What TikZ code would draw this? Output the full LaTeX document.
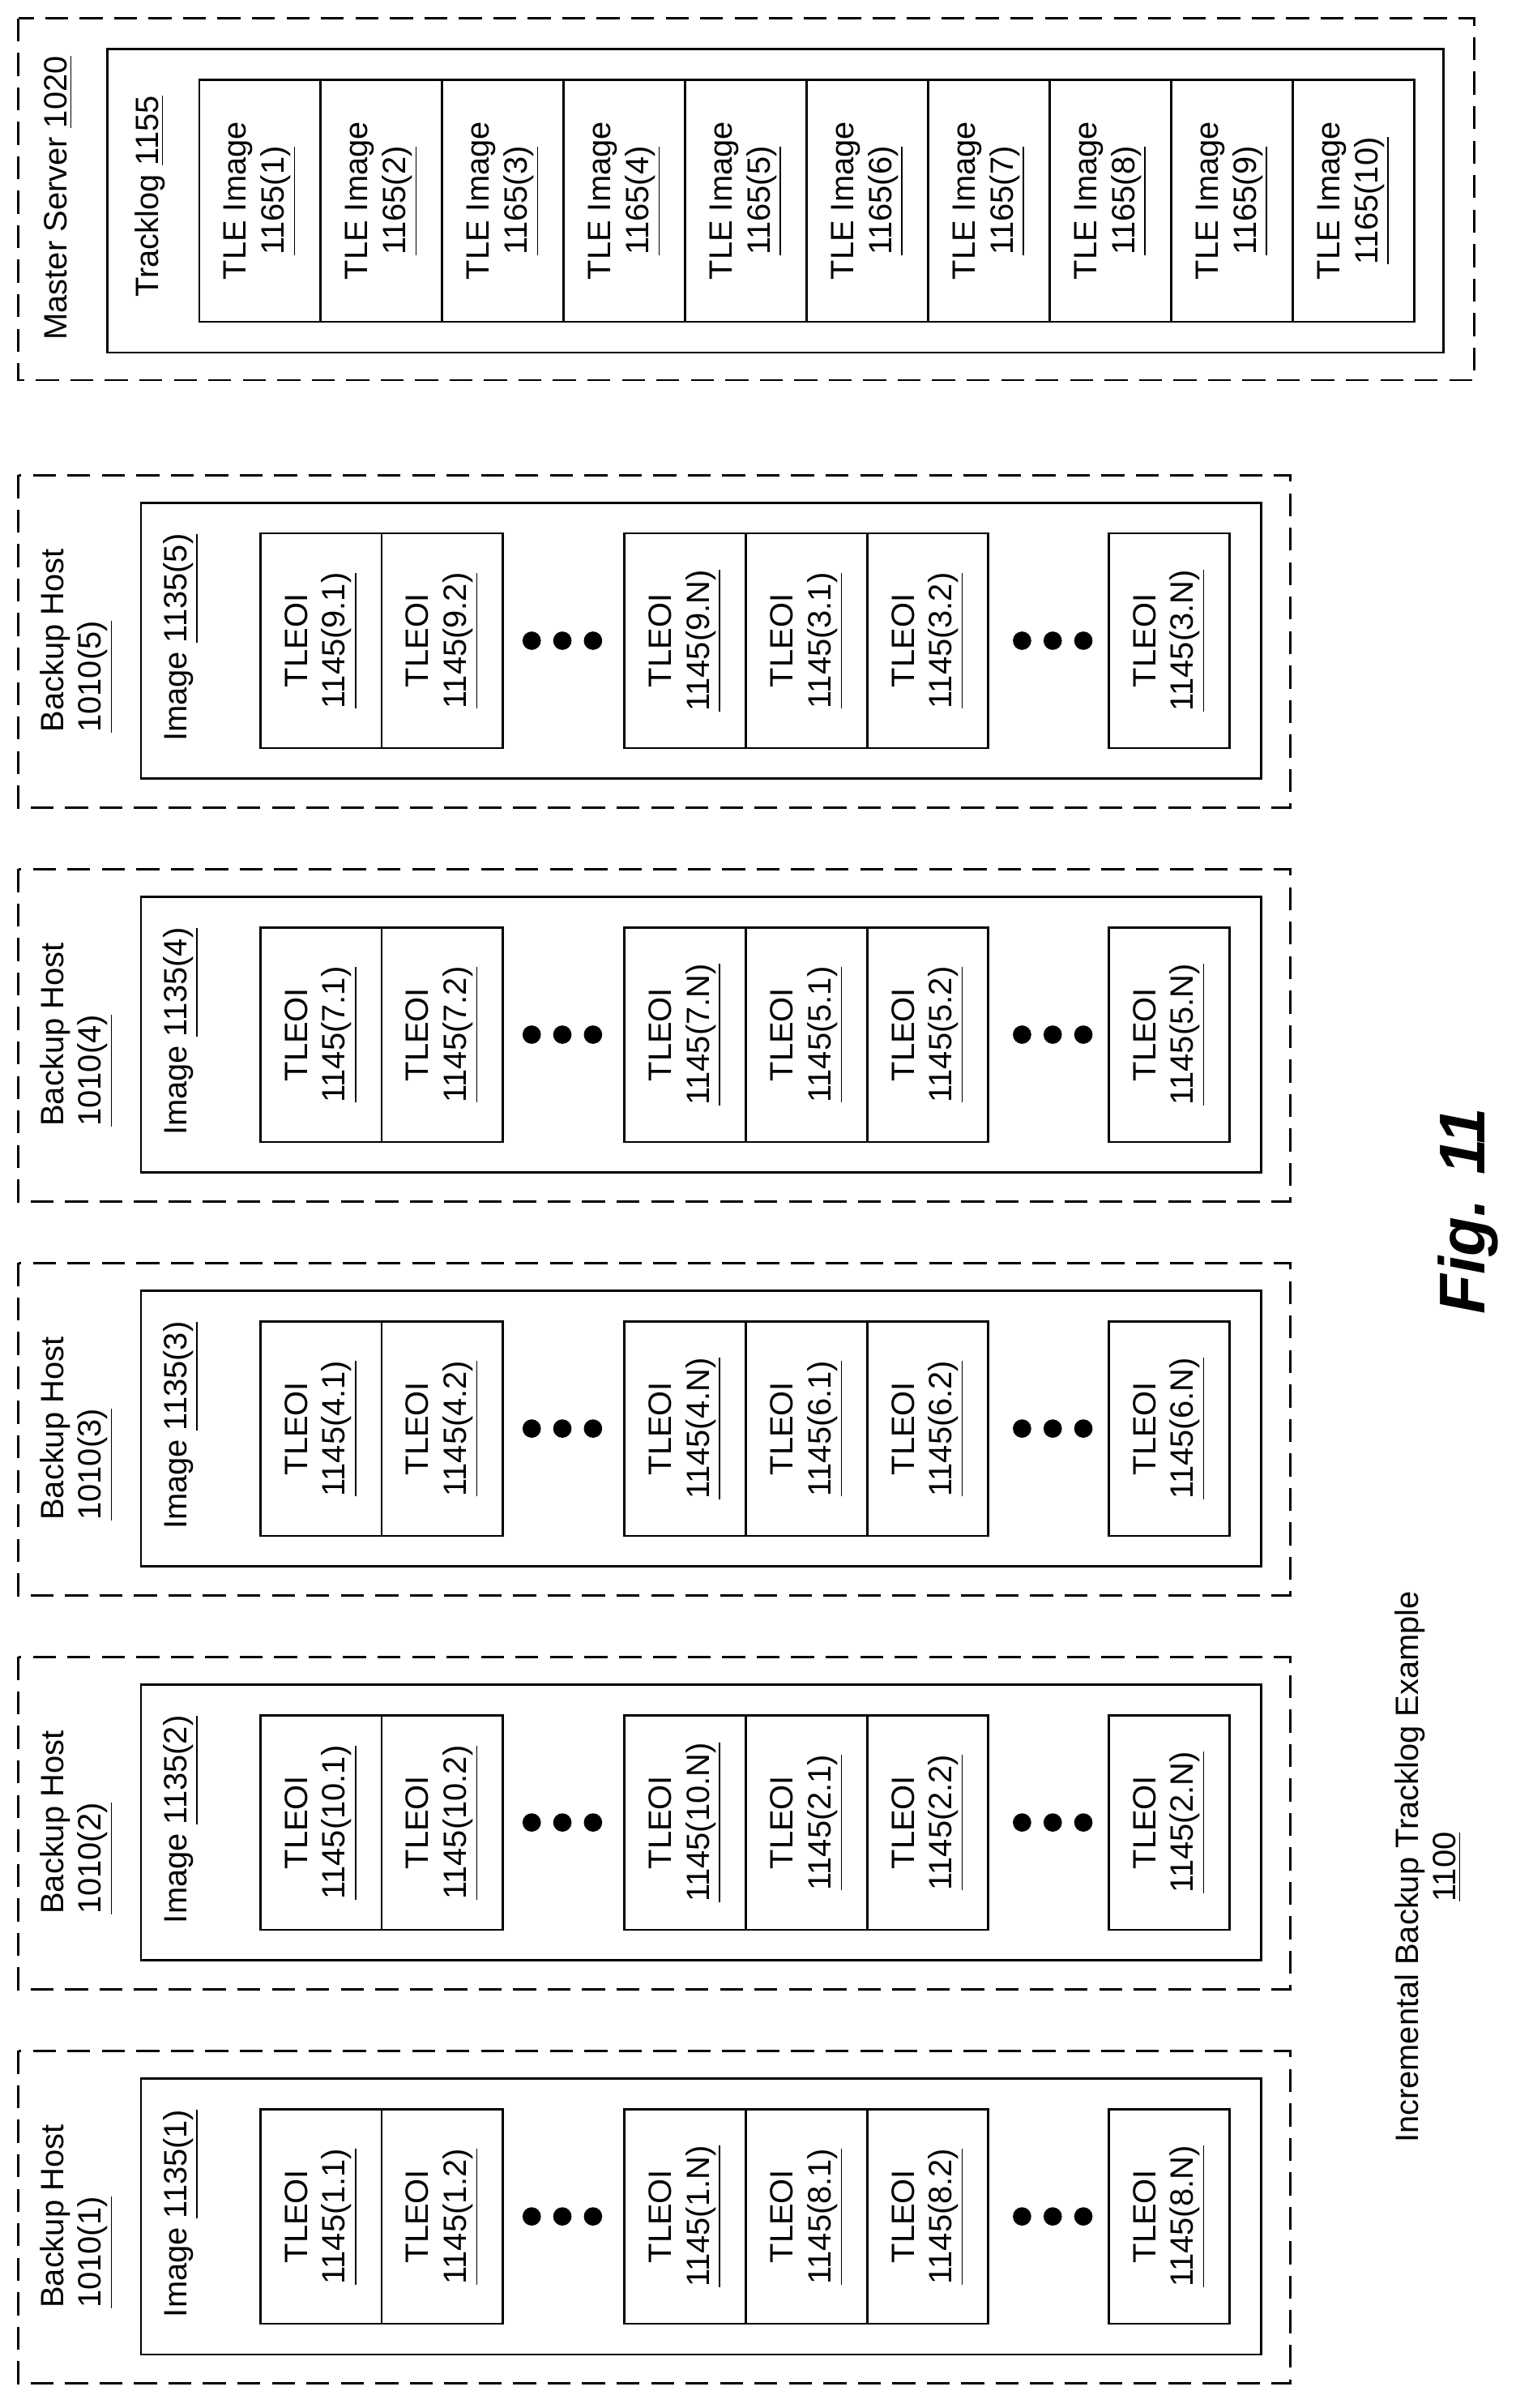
\documentclass[tikz,border=0pt]{standalone}
\usepackage{fontspec}
\setmainfont{Liberation Sans}
\usetikzlibrary{positioning}
\begin{document}
\begin{tikzpicture}[x=0.02cm, y=-0.02cm,
    outer/.style={draw, thick, dash pattern=on 0.3cm off 0.15cm},
    inner/.style={draw, thick},
    cell/.style={draw, thick, rotate=90, minimum width=2.8cm, minimum height=1.58cm, align=center, inner sep=0pt, font=\fontsize{12}{14}\selectfont},
    lbl/.style={rotate=90, anchor=west, align=left, font=\fontsize{12}{14}\selectfont},
    dot/.style={fill, circle, inner sep=0pt, minimum size=0.24cm}
]
\useasboundingbox (0,0) rectangle (1000,1571);

% Master server with tracklog
\draw[outer] (12,12) rectangle (962,248);
\draw[inner] (70,32) rectangle (942,230);
\node[lbl] (master) at (38,228) {Master Server \underline{1020}};
\node[lbl] (tracklog) at (98,200) {Tracklog \underline{1155}};
\foreach \k in {1,...,10}
  \node[cell, minimum width=3.16cm] (tle\k) at ({130+79.3*(\k-0.5)},131) {TLE Image\\\underline{1165(\k)}};

% Backup hosts
\foreach \h/\a/\b/\c/\d/\e/\f in {
    5/9.1/9.2/9.N/3.1/3.2/3.N,
    4/7.1/7.2/7.N/5.1/5.2/5.N,
    3/4.1/4.2/4.N/6.1/6.2/6.N,
    2/10.1/10.2/10.N/2.1/2.2/2.N,
    1/1.1/1.2/1.N/8.1/8.2/8.N}{
  \pgfmathsetmacro{\t}{310+(5-\h)*257}
  \draw[outer] (12,\t) rectangle (842,\t+217);
  \draw[inner] (92,\t+18) rectangle (823,\t+198);
  \node[lbl] (host\h) at (50,\t+174) {Backup Host\\\underline{1010(\h)}};
  \node[lbl] (image\h) at (118,\t+180) {Image \underline{1135(\h)}};
  \node[cell] (oia\h) at (209.5,\t+108) {TLEOI\\\underline{1145(\a)}};
  \node[cell] (oib\h) at (288.5,\t+108) {TLEOI\\\underline{1145(\b)}};
  \node[cell] (oic\h) at (447,\t+108) {TLEOI\\\underline{1145(\c)}};
  \node[cell] (oid\h) at (526.5,\t+108) {TLEOI\\\underline{1145(\d)}};
  \node[cell] (oie\h) at (605.5,\t+108) {TLEOI\\\underline{1145(\e)}};
  \node[cell] (oif\h) at (763,\t+108) {TLEOI\\\underline{1145(\f)}};
  \foreach \x in {347,367,387,667,687,707}
    \node[dot] at (\x,\t+108) {};
}

% Caption
\node[rotate=90, font=\fontsize{24}{28}\selectfont\bfseries\itshape] (fig) at (958,790) {Fig. 11};
\node[rotate=90, align=center, font=\fontsize{12}{14}\selectfont] (caption) at (932,1218) {Incremental Backup Tracklog Example\\\underline{1100}};
\end{tikzpicture}
\end{document}
